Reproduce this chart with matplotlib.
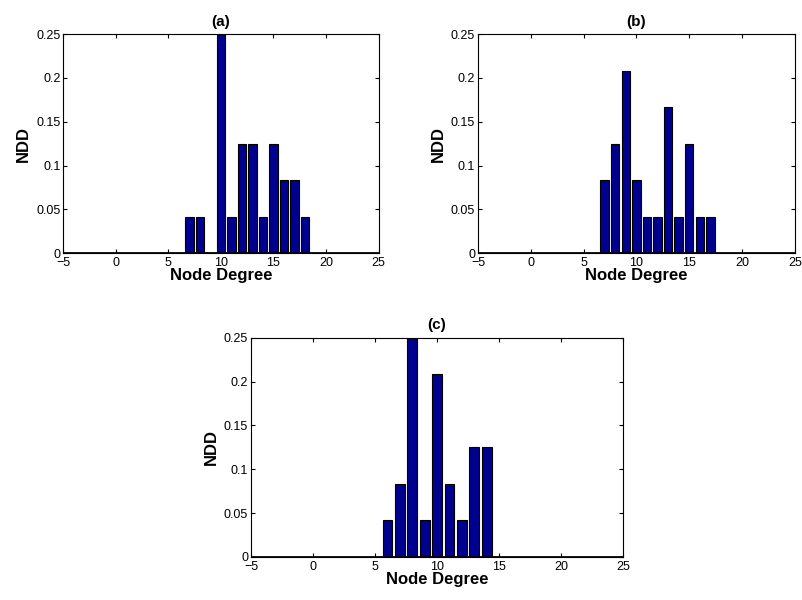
import matplotlib.pyplot as plt

plt.rcParams['font.family'] = ['Liberation Sans', 'DejaVu Sans']

degrees_a = [7, 8, 9, 10, 11, 12, 13, 14, 15, 16, 17, 18]
ndd_a = [1/24, 1/24, 0, 6/24, 1/24, 3/24, 3/24, 1/24, 3/24, 2/24, 2/24, 1/24]

degrees_b = [7, 8, 9, 10, 11, 12, 13, 14, 15, 16, 17]
ndd_b = [2/24, 3/24, 5/24, 2/24, 1/24, 1/24, 4/24, 1/24, 3/24, 1/24, 1/24]

degrees_c = [6, 7, 8, 9, 10, 11, 12, 13, 14]
ndd_c = [1/24, 2/24, 6/24, 1/24, 5/24, 2/24, 1/24, 3/24, 3/24]

panels = [
    ("(a)", degrees_a, ndd_a, [0.079, 0.578, 0.393, 0.365]),
    ("(b)", degrees_b, ndd_b, [0.596, 0.578, 0.395, 0.365]),
    ("(c)", degrees_c, ndd_c, [0.313, 0.072, 0.464, 0.365]),
]

fig = plt.figure(figsize=(8.02, 6), dpi=100)

for title, x, y, rect in panels:
    ax = fig.add_axes(rect)
    ax.bar(x, y, width=0.8, color='#00008f', edgecolor='black', linewidth=0.8, zorder=2)
    ax.axhline(0, color='black', linewidth=2, zorder=3)
    ax.set_xlim(-5, 25)
    ax.set_ylim(0, 0.25)
    ax.set_xticks([-5, 0, 5, 10, 15, 20, 25])
    ax.set_yticks([0, 0.05, 0.1, 0.15, 0.2, 0.25])
    ax.set_yticklabels(['0', '0.05', '0.1', '0.15', '0.2', '0.25'])
    ax.tick_params(direction='in', top=True, right=True, labelsize=9, length=3)
    ax.tick_params(axis='x', pad=3)
    ax.tick_params(axis='y', pad=2)
    ax.set_xlabel('Node Degree', fontsize=12, fontweight='bold', labelpad=-1)
    ax.set_ylabel('NDD', fontsize=12, fontweight='bold', labelpad=4)
    ax.set_title(title, fontsize=11, fontweight='bold', pad=6)
    for s in ax.spines.values():
        s.set_linewidth(0.8)

fig.savefig('out.png', dpi=100)
